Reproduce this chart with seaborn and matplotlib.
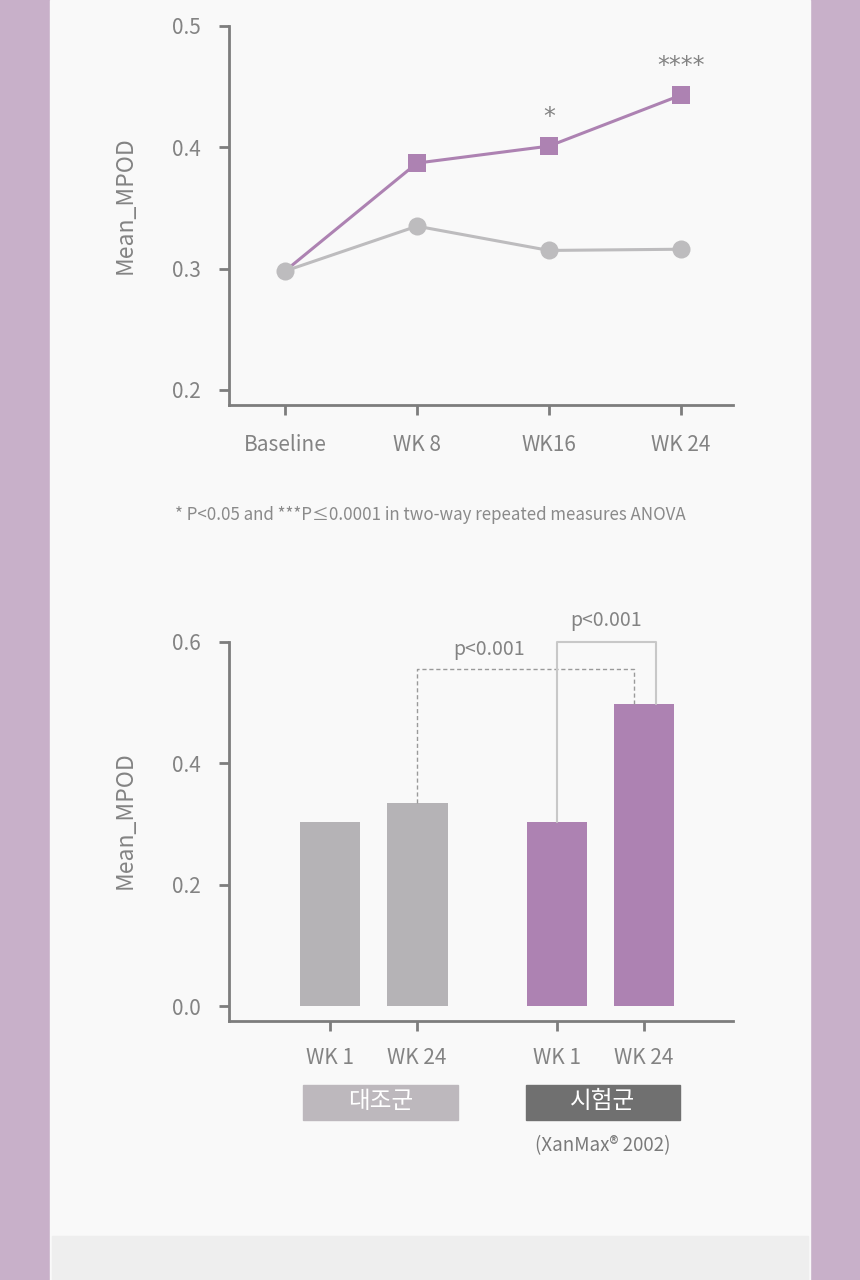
import matplotlib
matplotlib.use("Agg")
from matplotlib import pyplot as plt
from matplotlib.patches import Rectangle
import pandas as pd
import seaborn as sns

# line chart data
weeks = ["Baseline", "WK 8", "WK16", "WK 24"]
test_line = [0.298, 0.387, 0.401, 0.443]
ctrl_line = [0.298, 0.335, 0.315, 0.316]
sig_marks = ["", "", "*", "****"]

# bar chart data
bar_groups = ["대조군", "시험군"]
bar_weeks = ["WK 1", "WK 24"]
ctrl_bars = [0.303, 0.335]
test_bars = [0.303, 0.498]

PURPLE = "#ad82b2"
GRAY = "#bdbcbe"
BAR_GRAY = "#b5b3b6"
AXIS = "#7d7d7d"
TEXT = "#838383"

W, H = 860, 1280


def fbox(x0, y0, x1, y1):
    # pixel box -> figure fraction rect
    return [x0 / W, 1 - y1 / H, (x1 - x0) / W, (y1 - y0) / H]


def style_axes(ax):
    sns.despine(ax=ax)
    for s in ["left", "bottom"]:
        ax.spines[s].set_color(AXIS)
        ax.spines[s].set_linewidth(2)
    ax.tick_params(colors=AXIS, labelcolor=TEXT, length=7, width=2, labelsize=15)
    ax.tick_params(axis="y", pad=13)
    ax.set_facecolor("none")
    ax.set_xlabel("")


sns.set_theme(style="ticks")
plt.rcParams["font.family"] = ["Noto Sans CJK KR", "DejaVu Sans"]

fig = plt.figure(figsize=(8.6, 12.8), dpi=100, facecolor="#c8b0c9")
r = fbox(50, 0, 810, 1280)
fig.add_artist(Rectangle(r[:2], r[2], r[3], transform=fig.transFigure, color="#f9f9f9", zorder=0))
r = fbox(52, 1236, 808, 1280)
fig.add_artist(Rectangle(r[:2], r[2], r[3], transform=fig.transFigure, color="#eeeeee", zorder=0))

# ---- top: line chart ----
ax1 = fig.add_axes(fbox(229, 26, 733, 405))
line_df = pd.DataFrame({
    "week": weeks * 2,
    "MPOD": test_line + ctrl_line,
    "group": ["시험군"] * len(weeks) + ["대조군"] * len(weeks),
})
sns.lineplot(data=line_df, x="week", y="MPOD", hue="group", style="group",
             hue_order=["시험군", "대조군"], markers={"시험군": "s", "대조군": "o"},
             dashes=False, palette={"시험군": PURPLE, "대조군": GRAY},
             linewidth=2.2, markersize=13, markeredgewidth=0, sort=False,
             legend=False, ax=ax1)
# shared baseline point shows only the control marker
ax1.lines[0].set_markevery(list(range(1, len(weeks))))
for i, m in enumerate(sig_marks):
    if m:
        ax1.text(i, test_line[i] + 0.024, m, ha="center", va="center", fontsize=17,
                 color=TEXT, family="DejaVu Sans")
ax1.set_xlim(-0.424, 3.394)
ax1.set_ylim(0.1876, 0.5)
ax1.set_yticks([0.2, 0.3, 0.4, 0.5])
style_axes(ax1)
ax1.tick_params(axis="x", pad=14)
ax1.set_ylabel("Mean_MPOD", fontsize=16.5, color=TEXT)
ax1.yaxis.set_label_coords(-0.183, 0.528)

fig.text(430 / W, 1 - 515 / H,
         "* P<0.05 and ***P≤0.0001 in two-way repeated measures ANOVA",
         ha="center", va="center", fontsize=12.2, color="#8a8a8a")

# ---- bottom: bar chart ----
ax2 = fig.add_axes(fbox(229, 642, 733, 1021))
bar_df = pd.DataFrame({
    "group": [g for g in bar_groups for _ in bar_weeks],
    "week": bar_weeks * len(bar_groups),
    "MPOD": ctrl_bars + test_bars,
})
sns.barplot(data=bar_df, x="group", y="MPOD", hue="week", width=0.767, gap=0.3,
            errorbar=None, legend=False, ax=ax2)
bars = sorted(ax2.patches, key=lambda p: p.get_x())
for p in bars:
    cx = p.get_x() + p.get_width() / 2
    p.set_facecolor(BAR_GRAY if cx < 0.5 else PURPLE)
    p.set_edgecolor("none")
centers = [p.get_x() + p.get_width() / 2 for p in bars]
tops = [p.get_height() for p in bars]
ax2.set_xticks(centers)
ax2.set_xticklabels(bar_weeks * len(bar_groups))
ax2.set_xlim(-0.637, 1.584)
ax2.set_ylim(-0.0247, 0.6)
ax2.set_yticks([0.0, 0.2, 0.4, 0.6])
style_axes(ax2)
ax2.tick_params(axis="x", pad=12)
ax2.set_ylabel("Mean_MPOD", fontsize=16.5, color=TEXT)
ax2.yaxis.set_label_coords(-0.183, 0.530)

# significance brackets
ax2.plot([centers[1], centers[1], centers[3] - 0.044, centers[3] - 0.044],
         [tops[1], 0.556, 0.556, tops[3]], ls=(0, (3, 2)), lw=1, color="#9a9a9a", clip_on=False)
ax2.text(0.51, 0.587, "p<0.001", ha="center", va="center", fontsize=14, color=TEXT, clip_on=False)
ax2.plot([centers[2], centers[2], centers[3] + 0.053, centers[3] + 0.053],
         [tops[2], 0.600, 0.600, tops[3]], lw=1.5, color="#c8c8c8", clip_on=False)
ax2.text(1.024, 0.636, "p<0.001", ha="center", va="center", fontsize=14, color=TEXT, clip_on=False)

# group label boxes
for (x0, x1), label, col in zip([(303, 458), (526, 680)], bar_groups, ["#bdb8bd", "#707070"]):
    r = fbox(x0, 1085, x1, 1120)
    fig.add_artist(Rectangle(r[:2], r[2], r[3], transform=fig.transFigure, color=col))
    fig.text((x0 + x1) / 2 / W, 1 - 1102 / H, label, ha="center", va="center",
             fontsize=17, color="white")
fig.text(603 / W, 1 - 1146 / H, "(XanMax® 2002)", ha="center", va="center",
         fontsize=13.5, color="#7a7a7a")

fig.savefig("out.png", dpi=100, facecolor=fig.get_facecolor())
